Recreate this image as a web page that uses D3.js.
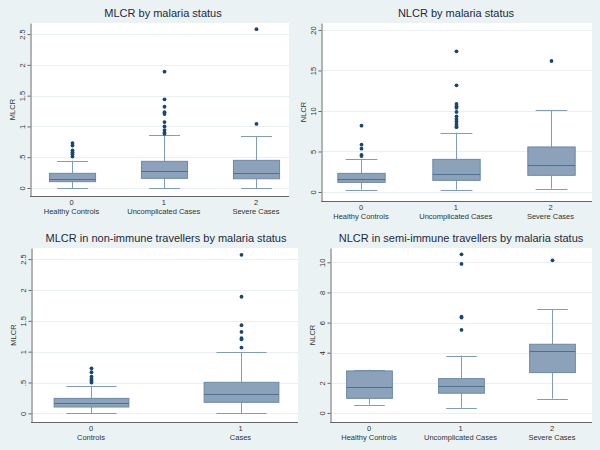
<!DOCTYPE html>
<html><head><meta charset="utf-8">
<script src="https://cdn.jsdelivr.net/npm/d3@7"></script>
<style>body{margin:0;background:#eaf2f3}svg{display:block}text{font-family:"Liberation Sans",Arial,sans-serif}</style>
</head><body><svg id="c" width="600" height="450"></svg>
<script>
// ---- data ----
const titles = ["MLCR by malaria status","NLCR by malaria status","MLCR in non-immune travellers by malaria status","NLCR in semi-immune travellers by malaria status"];
const yTitles = ["MLCR","NLCR","MLCR","NLCR"];
const catCodes3 = ["0","1","2"];
const catNames3 = ["Healthy Controls","Uncomplicated Cases","Severe Cases"];
const catCodes2 = ["0","1"];
const catNames2 = ["Controls","Cases"];
const mlcrTicks = [0,0.5,1,1.5,2,2.5];
const mlcrTickLabels = ["0",".5","1","1.5","2","2.5"];
const nlcrTicks = [0,5,10,15,20];
const nlcrTickLabels = ["0","5","10","15","20"];
const semiTicks = [0,2,4,6,8,10];
const semiTickLabels = ["0","2","4","6","8","10"];

// panel 1: MLCR by status
const p1Q1  = [0.103,0.157,0.150];
const p1Med = [0.140,0.270,0.243];
const p1Q3  = [0.238,0.433,0.449];
const p1Lo  = [0,0,0];
const p1Hi  = [0.444,0.86,0.84];
const p1Out = [[0.73,0.69,0.61,0.58,0.55,0.51],[1.89,1.44,1.32,1.23,1.20,1.07,1.0,0.94,0.90,0.88],[2.58,1.04]];
// panel 2: NLCR by status
const p2Q1  = [1.19,1.44,2.06];
const p2Med = [1.60,2.18,3.29];
const p2Q3  = [2.30,4.03,5.56];
const p2Lo  = [0.29,0.29,0.41];
const p2Hi  = [4.03,7.33,10.08];
const p2Out = [[8.19,5.84,5.35,4.57,4.44],[17.37,13.17,10.86,10.6,10.4,9.88,9.34,9.0,8.7,8.4,8.15,8.0],[16.17]];
// panel 3: MLCR non-immune
const p3Q1  = [0.103,0.179];
const p3Med = [0.162,0.308];
const p3Q3  = [0.243,0.503];
const p3Lo  = [0,0];
const p3Hi  = [0.449,0.99];
const p3Out = [[0.73,0.666,0.595,0.557,0.53,0.50],[2.57,1.89,1.43,1.32,1.22,1.20,1.066]];
// panel 4: NLCR semi-immune
const p4Q1  = [0.97,1.31,2.68];
const p4Med = [1.70,1.77,4.09];
const p4Q3  = [2.79,2.28,4.56];
const p4Lo  = [0.55,0.35,0.95];
const p4Hi  = [2.88,3.81,6.90];
const p4Out = [[],[10.53,9.89,6.39,6.33,5.51],[10.13]];

// ---- layout ----
const panels = [
  {codes:catCodes3,names:catNames3,q1:p1Q1,med:p1Med,q3:p1Q3,lo:p1Lo,hi:p1Hi,out:p1Out,ticks:mlcrTicks,tl:mlcrTickLabels,
   box:[30,289,23,196],dom:[-0.13,2.68],xr:[71.5,256],tx:163,ty:17},
  {codes:catCodes3,names:catNames3,q1:p2Q1,med:p2Med,q3:p2Q3,lo:p2Lo,hi:p2Hi,out:p2Out,ticks:nlcrTicks,tl:nlcrTickLabels,
   box:[321,592,23,201],dom:[-1.11,20.86],xr:[361,550.5],tx:456,ty:17},
  {codes:catCodes2,names:catNames2,q1:p3Q1,med:p3Med,q3:p3Q3,lo:p3Lo,hi:p3Hi,out:p3Out,ticks:mlcrTicks,tl:mlcrTickLabels,
   box:[31,298,248,422],dom:[-0.14,2.68],xr:[91,240.5],tx:166,ty:242},
  {codes:catCodes3,names:catNames3,q1:p4Q1,med:p4Med,q3:p4Q3,lo:p4Lo,hi:p4Hi,out:p4Out,ticks:semiTicks,tl:semiTickLabels,
   box:[330,592,248,422],dom:[-0.6,10.95],xr:[369,552],tx:461,ty:242}
];

const svg = d3.select("#c");
svg.append("rect").attr("width",600).attr("height",450).attr("fill","#eaf2f3");

panels.forEach((p,i)=>{
  const [x0,x1,y0,y1] = p.box;
  const g = svg.append("g");
  g.append("rect").attr("x",x0).attr("y",y0).attr("width",x1-x0).attr("height",y1-y0).attr("fill","#fff");
  const y = d3.scaleLinear().domain(p.dom).range([y1,y0]);
  const x = d3.scalePoint().domain(p.codes).range(p.xr);
  const step = x.step();
  const bw = step*0.5, cw = bw*0.67;

  // grid
  g.selectAll(".grid").data(p.ticks).join("line")
    .attr("x1",x0+1).attr("x2",x1).attr("y1",d=>Math.round(y(d))+0.5).attr("y2",d=>Math.round(y(d))+0.5)
    .attr("stroke","#eaf0f1").attr("stroke-width",1);

  // title
  g.append("text").attr("x",p.tx).attr("y",p.ty).attr("text-anchor","middle")
    .attr("font-size",11).attr("fill","#1d2a3c").text(titles[i]);

  // y axis
  const ya = d3.axisLeft(y).tickValues(p.ticks).tickFormat((d,j)=>p.tl[j]).tickSize(3).tickSizeOuter(0);
  const ag = g.append("g").attr("transform",`translate(${x0+0.5},0)`).call(ya);
  ag.select(".domain").attr("stroke","#666");
  ag.selectAll(".tick line").attr("stroke","#666");
  ag.selectAll(".tick text").attr("transform","rotate(-90)").attr("x",0).attr("y",-6).attr("dy","0")
    .attr("text-anchor","middle").attr("font-size",7.5).attr("fill","#333").attr("font-family",null);
  g.append("text").attr("transform",`translate(${x0-15},${(y0+y1)/2}) rotate(-90)`)
    .attr("text-anchor","middle").attr("font-size",7.5).attr("fill","#333").text(yTitles[i]);

  // x axis line
  const xa = d3.axisBottom(x).tickSize(0).tickSizeOuter(0).tickFormat("");
  const xg = g.append("g").attr("transform",`translate(0,${y1+0.5})`).call(xa);
  xg.select(".domain").attr("d",`M${x0},0H${x1}`).attr("stroke","#666");
  p.codes.forEach((c,j)=>{
    g.append("text").attr("x",x(c)).attr("y",y1+9).attr("text-anchor","middle").attr("font-size",7.5).attr("fill","#333").text(c);
    g.append("text").attr("x",x(c)).attr("y",y1+18).attr("text-anchor","middle").attr("font-size",7.5).attr("fill","#333").text(p.names[j]);
  });

  // boxes
  p.codes.forEach((c,j)=>{
    const cx = Math.round(x(c))+0.5;
    const wc = "#7f9dba";
    // whiskers
    g.append("line").attr("x1",cx).attr("x2",cx).attr("y1",y(p.q3[j])).attr("y2",y(p.hi[j])).attr("stroke",wc);
    g.append("line").attr("x1",cx).attr("x2",cx).attr("y1",y(p.q1[j])).attr("y2",y(p.lo[j])).attr("stroke",wc);
    g.append("line").attr("x1",cx-cw/2).attr("x2",cx+cw/2).attr("y1",Math.round(y(p.hi[j]))+0.5).attr("y2",Math.round(y(p.hi[j]))+0.5).attr("stroke",wc);
    g.append("line").attr("x1",cx-cw/2).attr("x2",cx+cw/2).attr("y1",Math.round(y(p.lo[j]))+0.5).attr("y2",Math.round(y(p.lo[j]))+0.5).attr("stroke",wc);
    // box
    g.append("rect").attr("x",cx-bw/2).attr("y",y(p.q3[j])).attr("width",bw).attr("height",y(p.q1[j])-y(p.q3[j]))
      .attr("fill","#8ba2ba").attr("stroke","#6b89a7").attr("stroke-width",1);
    g.append("line").attr("x1",cx-bw/2).attr("x2",cx+bw/2).attr("y1",Math.round(y(p.med[j]))+0.5).attr("y2",Math.round(y(p.med[j]))+0.5)
      .attr("stroke","#4f6f8f").attr("stroke-width",1.2);
    // outliers
    g.selectAll(null).data(p.out[j]).join("circle").attr("cx",cx).attr("cy",d=>y(d)).attr("r",1.9).attr("fill","#1a476f");
  });
});
</script></body></html>
